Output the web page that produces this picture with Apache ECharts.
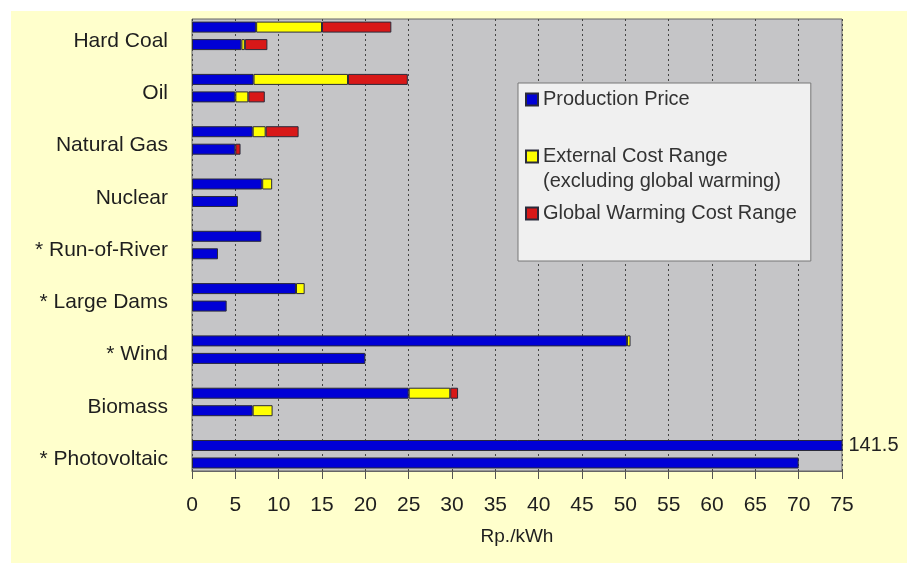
<!DOCTYPE html>
<html>
<head>
<meta charset="utf-8">
<script src="https://cdn.jsdelivr.net/npm/echarts@6/dist/echarts.min.js"></script>
<style>
  html, body { margin: 0; padding: 0; background: #ffffff; }
  #wrap { position: relative; width: 907px; height: 563px; overflow: hidden; }
  #paper { position: absolute; left: 11px; top: 11px; right: 0; bottom: 0; background: #FFFFCC; }
  #chart { position: absolute; left: 0; top: 0; width: 907px; height: 563px; }
</style>
</head>
<body>
<div id="wrap"><div id="paper"></div><div id="chart"></div></div>
<script>
// Electricity generation cost, Rp./kWh. Upper bar = high estimate, lower bar = low estimate.
const categories = ['Hard Coal', 'Oil', 'Natural Gas', 'Nuclear', '* Run-of-River',
                    '* Large Dams', '* Wind', 'Biomass', '* Photovoltaic'];

// High estimates (stacked segments)
const productionHigh = [7.4, 7.1, 7.0, 8.1, 8.0, 12.0, 50.2, 25.0, 141.5];
const externalHigh   = [7.6, 10.9, 1.5, 1.15, null, 1.0, 0.4, 4.8, null];
const warmingHigh    = [8.0, 6.9, 3.8, null, null, null, null, 0.9, null];

// Low estimates (stacked segments)
const productionLow  = [5.7, 5.0, 5.0, 5.3, 3.0, 4.0, 20.0, 7.0, 70.0];
const externalLow    = [0.4, 1.5, null, null, null, null, null, 2.3, null];
const warmingLow     = [2.6, 1.9, 0.6, null, null, null, null, null, null];

const xTicks = { min: 0, max: 75, step: 5 };

const seriesNames = ['Production Price', 'External Cost Range', 'Global Warming Cost Range'];
const legendLabels = ['Production Price',
                      '\nExternal Cost Range\n(excluding global warming)',
                      'Global Warming Cost Range'];
const colors = ['#0000D6', '#FFFF00', '#D81818'];

const FONT = "'Liberation Sans', Arial, sans-serif";

function barSeries(name, stack, values, color) {
  return {
    type: 'bar',
    name: name,
    stack: stack,
    xAxisIndex: 0,
    yAxisIndex: 0,
    barWidth: 11,
    barGap: '59%',
    clip: true,
    itemStyle: { color: color, borderColor: '#2a2a3a', borderWidth: 1 },
    data: values.map(function (v) {
      if (v !== null && v > xTicks.max) {
        // value runs past the axis: bar is clipped, value written beside it
        return {
          value: v,
          label: {
            show: true, position: 'right', distance: 6,
            formatter: '{c}', fontSize: 20, color: '#222', fontFamily: FONT
          }
        };
      }
      return v;
    })
  };
}

const chart = echarts.init(document.getElementById('chart'), null, { renderer: 'canvas' });

chart.setOption({
  animation: false,
  backgroundColor: 'transparent',
  textStyle: { fontFamily: FONT },
  grid: [
    // bars
    { left: 192, right: 65, top: 9.7, bottom: 82.6, show: false },
    // plot frame with value axis
    { left: 192, right: 65, top: 19, bottom: 92, show: true,
      backgroundColor: '#C5C5C7', borderColor: '#666', borderWidth: 1, z: 0 }
  ],
  xAxis: [
    { gridIndex: 0, type: 'value', min: xTicks.min, max: xTicks.max, show: false },
    { gridIndex: 1, type: 'value', min: xTicks.min, max: xTicks.max, interval: xTicks.step,
      axisLine: { show: true, lineStyle: { color: '#666', width: 1 } },
      axisTick: { show: true, length: 8, lineStyle: { color: '#555' } },
      axisLabel: { fontSize: 21, color: '#1e1e1e', margin: 24 },
      splitLine: { show: true, lineStyle: { color: '#444', width: 1, type: [2, 3] } },
      name: 'Rp./kWh', nameLocation: 'middle', nameGap: 56,
      nameTextStyle: { fontSize: 19, color: '#1e1e1e' } }
  ],
  yAxis: [
    { gridIndex: 0, type: 'category', inverse: true, data: categories,
      axisLine: { show: false }, axisTick: { show: false },
      splitLine: { show: false },
      axisLabel: { fontSize: 21, color: '#1e1e1e', margin: 24,
                   verticalAlign: 'top', lineHeight: 10 } },
    { gridIndex: 1, type: 'value', show: false }
  ],
  legend: {
    data: seriesNames,
    orient: 'vertical',
    left: 518, top: 83,
    icon: 'rect',
    itemWidth: 12, itemHeight: 12, itemGap: 7,
    padding: [4, 14, 35, 7],
    backgroundColor: '#F0F0F0',
    borderColor: '#777', borderWidth: 1,
    selectedMode: false,
    textStyle: { fontSize: 20, color: '#333', lineHeight: 25 },
    formatter: function (name) { return legendLabels[seriesNames.indexOf(name)]; }
  },
  series: [
    barSeries(seriesNames[0], 'high', productionHigh, colors[0]),
    barSeries(seriesNames[1], 'high', externalHigh, colors[1]),
    barSeries(seriesNames[2], 'high', warmingHigh, colors[2]),
    barSeries(seriesNames[0], 'low', productionLow, colors[0]),
    barSeries(seriesNames[1], 'low', externalLow, colors[1]),
    barSeries(seriesNames[2], 'low', warmingLow, colors[2])
  ]
});
</script>
</body>
</html>
